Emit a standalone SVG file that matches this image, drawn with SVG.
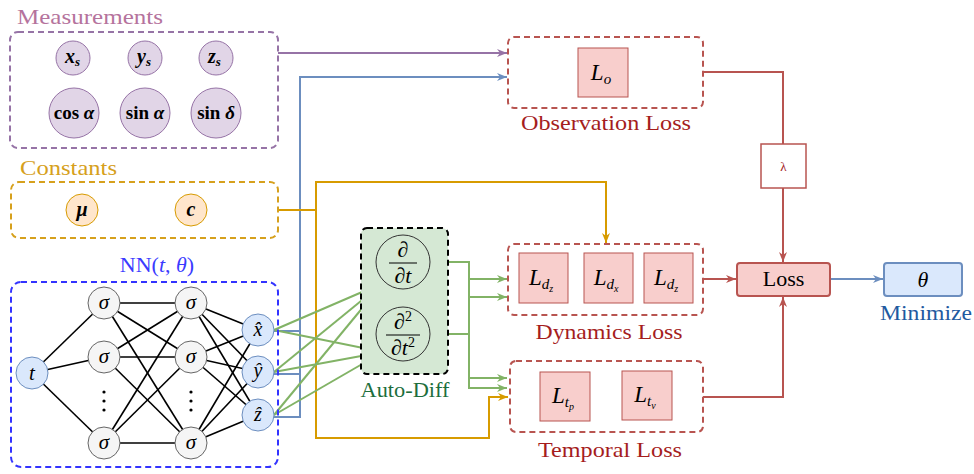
<svg xmlns="http://www.w3.org/2000/svg" width="974" height="474" viewBox="0 0 974 474">
  <style>
    .title { font-family: "Liberation Serif", "DejaVu Serif", serif; font-size: 22px; }
    .math { font-family: "Liberation Serif", "DejaVu Serif", serif; font-style: italic; fill: #000; }
    .mathb { font-family: "Liberation Serif", "DejaVu Serif", serif; font-weight: bold; fill: #000; }
    .grp { fill: none; stroke-width: 2; stroke-dasharray: 6 4; }
    .meas { fill: #e1d5e7; stroke: #9673a6; stroke-width: 1; }
    .const { fill: #ffe6cc; stroke: #d79b00; stroke-width: 1; }
    .hid { fill: #f5f5f5; stroke: #666666; stroke-width: 1; }
    .io { fill: #dae8fc; stroke: #6c8ebf; stroke-width: 1; }
    .lbox { fill: #f8cecc; stroke: #b85450; stroke-width: 1; }
    .nn line { stroke: #000; stroke-width: 1.6; }
    .e { fill: none; stroke-width: 2; }
    .purple { stroke: #9673a6; }
    .blue { stroke: #6c8ebf; }
    .orange { stroke: #d79b00; }
    .green { stroke: #82b366; }
    .red { stroke: #b85450; }
    .lossname { fill: #a51d1d; }
  </style>
  <defs>
    <marker id="arPurple" markerUnits="userSpaceOnUse" markerWidth="11" markerHeight="10" refX="10" refY="5" orient="auto">
      <path d="M0,1 L10,5 L0,9 L3,5 z" fill="#9673a6"/>
    </marker>
    <marker id="arBlue" markerUnits="userSpaceOnUse" markerWidth="11" markerHeight="10" refX="10" refY="5" orient="auto">
      <path d="M0,1 L10,5 L0,9 L3,5 z" fill="#6c8ebf"/>
    </marker>
    <marker id="arOrange" markerUnits="userSpaceOnUse" markerWidth="11" markerHeight="10" refX="10" refY="5" orient="auto">
      <path d="M0,1 L10,5 L0,9 L3,5 z" fill="#d79b00"/>
    </marker>
    <marker id="arGreen" markerUnits="userSpaceOnUse" markerWidth="11" markerHeight="10" refX="10" refY="5" orient="auto">
      <path d="M0,1 L10,5 L0,9 L3,5 z" fill="#82b366"/>
    </marker>
    <marker id="arRed" markerUnits="userSpaceOnUse" markerWidth="11" markerHeight="10" refX="10" refY="5" orient="auto">
      <path d="M0,1 L10,5 L0,9 L3,5 z" fill="#b85450"/>
    </marker>
  </defs>

  <!-- Connectors -->
  <g id="connectors">
    <path class="e purple" d="M278,53 H507" marker-end="url(#arPurple)"/>
    <path class="e blue" d="M274,331 H300 M274,374 H300"/>
    <path class="e blue" d="M274,417 H300 V77 H507" marker-end="url(#arBlue)"/>
    <path class="e orange" d="M278,210 H316 V182 H606 V243" marker-end="url(#arOrange)"/>
    <path class="e orange" d="M316,210 V438 H489 V397 H508" marker-end="url(#arOrange)"/>
    <!-- network outputs into the differentiation operators -->
    <g class="e green" stroke-width="1.6">
      <line x1="274" y1="330" x2="383" y2="283"/>
      <line x1="274" y1="330" x2="383" y2="352"/>
      <line x1="274" y1="372" x2="383" y2="283"/>
      <line x1="274" y1="372" x2="383" y2="352"/>
      <line x1="274" y1="415" x2="383" y2="283"/>
      <line x1="274" y1="415" x2="383" y2="352"/>
    </g>
    <path class="e green" d="M430,262 H469 V279 H507" marker-end="url(#arGreen)"/>
    <path class="e green" d="M430,334 H469 V297 H507" marker-end="url(#arGreen)"/>
    <path class="e green" d="M430,262 H469 V378 H507" marker-end="url(#arGreen)"/>
    <path class="e green" d="M430,334 H469 V388 H507" marker-end="url(#arGreen)"/>
    <path class="e red" d="M703,72 H783 V144"/>
    <path class="e red" d="M783,188 V262" marker-end="url(#arRed)"/>
    <path class="e red" d="M703,279 H736" marker-end="url(#arRed)"/>
    <path class="e red" d="M703,397 H783 V297" marker-end="url(#arRed)"/>
    <path class="e blue" d="M830,279 H883" marker-end="url(#arBlue)"/>
  </g>

  <!-- Measurements group -->
  <g id="measurements">
    <text class="title" x="17" y="24" fill="#b5739d" textLength="146" lengthAdjust="spacingAndGlyphs">Measurements</text>
    <rect class="grp" x="10" y="32" width="268" height="116" rx="8" stroke="#9673a6"/>
    <circle class="meas" cx="73" cy="58" r="17"/>
    <text class="math" x="65" y="63" font-size="20" font-weight="bold">x<tspan font-size="13" dy="3">s</tspan></text>
    <circle class="meas" cx="145" cy="58" r="17"/>
    <text class="math" x="137" y="63" font-size="20" font-weight="bold">y<tspan font-size="13" dy="3">s</tspan></text>
    <circle class="meas" cx="216" cy="58" r="17"/>
    <text class="math" x="208" y="63" font-size="20" font-weight="bold">z<tspan font-size="13" dy="3">s</tspan></text>
    <circle class="meas" cx="74" cy="113" r="25"/>
    <text class="mathb" x="74" y="119" font-size="19" text-anchor="middle">cos <tspan font-style="italic">α</tspan></text>
    <circle class="meas" cx="145" cy="113" r="25"/>
    <text class="mathb" x="145" y="119" font-size="19" text-anchor="middle">sin <tspan font-style="italic">α</tspan></text>
    <circle class="meas" cx="216" cy="113" r="25"/>
    <text class="mathb" x="216" y="119" font-size="19" text-anchor="middle">sin <tspan font-style="italic">δ</tspan></text>
  </g>

  <!-- Constants group -->
  <g id="constants">
    <text class="title" x="20" y="175" fill="#d6a01c" textLength="97" lengthAdjust="spacingAndGlyphs">Constants</text>
    <rect class="grp" x="11" y="182" width="267" height="56" rx="8" stroke="#d6a01c"/>
    <circle class="const" cx="82" cy="210" r="16"/>
    <text class="math" x="82" y="216" font-size="20" font-weight="bold" text-anchor="middle">μ</text>
    <circle class="const" cx="191" cy="210" r="16"/>
    <text class="math" x="191" y="216" font-size="20" font-weight="bold" text-anchor="middle">c</text>
  </g>

  <!-- Neural network -->
  <g id="nn" class="nn">
    <text class="title" x="157" y="272" fill="#3b3bff" text-anchor="middle" font-size="24">NN(<tspan font-style="italic">t</tspan>, <tspan font-style="italic">θ</tspan>)</text>
    <rect class="grp" x="11" y="282" width="267" height="185" rx="10" stroke="#3333ff"/>
    <!-- input to first hidden layer -->
    <line x1="32" y1="373" x2="104" y2="303"/>
    <line x1="32" y1="373" x2="104" y2="357"/>
    <line x1="32" y1="373" x2="104" y2="443"/>
    <!-- hidden to hidden -->
    <line x1="104" y1="303" x2="191" y2="303"/>
    <line x1="104" y1="303" x2="191" y2="357"/>
    <line x1="104" y1="303" x2="191" y2="443"/>
    <line x1="104" y1="357" x2="191" y2="303"/>
    <line x1="104" y1="357" x2="191" y2="357"/>
    <line x1="104" y1="357" x2="191" y2="443"/>
    <line x1="104" y1="443" x2="191" y2="303"/>
    <line x1="104" y1="443" x2="191" y2="357"/>
    <line x1="104" y1="443" x2="191" y2="443"/>
    <!-- hidden to outputs -->
    <line x1="191" y1="303" x2="258" y2="330"/>
    <line x1="191" y1="303" x2="258" y2="372"/>
    <line x1="191" y1="303" x2="258" y2="415"/>
    <line x1="191" y1="357" x2="258" y2="330"/>
    <line x1="191" y1="357" x2="258" y2="372"/>
    <line x1="191" y1="357" x2="258" y2="415"/>
    <line x1="191" y1="443" x2="258" y2="330"/>
    <line x1="191" y1="443" x2="258" y2="372"/>
    <line x1="191" y1="443" x2="258" y2="415"/>
    <g id="node-t">
      <circle class="io" cx="32" cy="373" r="16"/>
      <text class="math" x="32" y="380" font-size="21" text-anchor="middle">t</text>
    </g>
    <g id="hidden-1">
      <circle class="hid" cx="104" cy="303" r="16"/>
      <text class="math" x="104" y="309" font-size="21" text-anchor="middle">σ</text>
      <circle class="hid" cx="104" cy="357" r="16"/>
      <text class="math" x="104" y="363" font-size="21" text-anchor="middle">σ</text>
      <circle class="hid" cx="104" cy="443" r="16"/>
      <text class="math" x="104" y="449" font-size="21" text-anchor="middle">σ</text>
      <circle cx="104" cy="392" r="1.6" fill="#000"/>
      <circle cx="104" cy="401" r="1.6" fill="#000"/>
      <circle cx="104" cy="410" r="1.6" fill="#000"/>
    </g>
    <g id="hidden-2">
      <circle class="hid" cx="191" cy="303" r="16"/>
      <text class="math" x="191" y="309" font-size="21" text-anchor="middle">σ</text>
      <circle class="hid" cx="191" cy="357" r="16"/>
      <text class="math" x="191" y="363" font-size="21" text-anchor="middle">σ</text>
      <circle class="hid" cx="191" cy="443" r="16"/>
      <text class="math" x="191" y="449" font-size="21" text-anchor="middle">σ</text>
      <circle cx="191" cy="392" r="1.6" fill="#000"/>
      <circle cx="191" cy="401" r="1.6" fill="#000"/>
      <circle cx="191" cy="410" r="1.6" fill="#000"/>
    </g>
    <g id="outputs">
      <circle class="io" cx="258" cy="330" r="16"/>
      <text class="math" x="258" y="336" font-size="20" text-anchor="middle">x̂</text>
      <circle class="io" cx="258" cy="372" r="16"/>
      <text class="math" x="258" y="377" font-size="20" text-anchor="middle">ŷ</text>
      <circle class="io" cx="258" cy="415" r="16"/>
      <text class="math" x="258" y="421" font-size="20" text-anchor="middle">ẑ</text>
    </g>
  </g>

  <!-- Automatic differentiation -->
  <g id="auto-diff">
    <rect x="361" y="228" width="87" height="146" rx="6" fill="#d5e8d4" stroke="#000" stroke-width="2" stroke-dasharray="6 4"/>
    <circle cx="403" cy="262" r="27" fill="none" stroke="#333" stroke-width="1"/>
    <text class="math" x="403" y="257" font-size="22" font-style="normal" text-anchor="middle">∂</text>
    <line x1="389" y1="263" x2="417" y2="263" stroke="#000" stroke-width="1"/>
    <text class="math" x="403" y="283" font-size="22" text-anchor="middle">∂t</text>
    <circle cx="403" cy="334" r="27" fill="none" stroke="#333" stroke-width="1"/>
    <text class="math" x="403" y="329" font-size="22" text-anchor="middle">∂<tspan font-size="14" dy="-8" font-style="normal">2</tspan></text>
    <line x1="386" y1="335" x2="420" y2="335" stroke="#000" stroke-width="1"/>
    <text class="math" x="403" y="355" font-size="22" text-anchor="middle">∂t<tspan font-size="14" dy="-8" font-style="normal">2</tspan></text>
    <text class="title" x="405" y="397" fill="#1d6e3c" text-anchor="middle" textLength="89" lengthAdjust="spacingAndGlyphs">Auto-Diff</text>
  </g>

  <!-- Observation loss -->
  <g id="observation-loss">
    <rect class="grp" x="508" y="37" width="195" height="71" rx="6" stroke="#b85450"/>
    <rect class="lbox" x="578" y="48" width="50" height="49"/>
    <text class="math" x="601" y="80" font-size="23" text-anchor="middle">L<tspan font-size="15" dy="4">o</tspan></text>
    <text class="title lossname" x="606" y="130" text-anchor="middle" textLength="170" lengthAdjust="spacingAndGlyphs">Observation Loss</text>
  </g>

  <!-- Dynamics loss -->
  <g id="dynamics-loss">
    <rect class="grp" x="508" y="244" width="195" height="71" rx="6" stroke="#b85450"/>
    <rect class="lbox" x="519" y="253" width="49" height="50"/>
    <text class="math" x="541" y="285" font-size="23" text-anchor="middle">L<tspan font-size="15" dy="4">d</tspan><tspan font-size="10" dy="3">z</tspan></text>
    <rect class="lbox" x="584" y="253" width="49" height="50"/>
    <text class="math" x="606" y="285" font-size="23" text-anchor="middle">L<tspan font-size="15" dy="4">d</tspan><tspan font-size="10" dy="3">x</tspan></text>
    <rect class="lbox" x="644" y="253" width="49" height="50"/>
    <text class="math" x="666" y="285" font-size="23" text-anchor="middle">L<tspan font-size="15" dy="4">d</tspan><tspan font-size="10" dy="3">z</tspan></text>
    <text class="title lossname" x="609" y="339" text-anchor="middle" textLength="147" lengthAdjust="spacingAndGlyphs">Dynamics Loss</text>
  </g>

  <!-- Temporal loss -->
  <g id="temporal-loss">
    <rect class="grp" x="510" y="361" width="193" height="71" rx="6" stroke="#b85450"/>
    <rect class="lbox" x="540" y="372" width="50" height="49"/>
    <text class="math" x="563" y="403" font-size="23" text-anchor="middle">L<tspan font-size="15" dy="4">t</tspan><tspan font-size="10" dy="3">p</tspan></text>
    <rect class="lbox" x="622" y="371" width="50" height="49"/>
    <text class="math" x="645" y="402" font-size="23" text-anchor="middle">L<tspan font-size="15" dy="4">t</tspan><tspan font-size="10" dy="3">v</tspan></text>
    <text class="title lossname" x="610" y="457" text-anchor="middle" textLength="144" lengthAdjust="spacingAndGlyphs">Temporal Loss</text>
  </g>

  <!-- Weighting factor -->
  <g id="lambda">
    <rect x="761" y="144" width="45" height="44" fill="#fff" stroke="#b85450" stroke-width="1.5"/>
    <text x="783.5" y="171" font-family="Liberation Serif, serif" font-size="13" fill="#a51d1d" text-anchor="middle">λ</text>
  </g>

  <!-- Total loss -->
  <g id="loss">
    <rect x="737" y="263" width="93" height="33" rx="3" fill="#f8cecc" stroke="#b85450" stroke-width="2"/>
    <text class="title" x="783.5" y="286" font-size="20" fill="#000" text-anchor="middle">Loss</text>
  </g>

  <!-- Parameters to minimize -->
  <g id="theta">
    <rect x="884" y="263" width="78" height="33" rx="3" fill="#dae8fc" stroke="#6c8ebf" stroke-width="2"/>
    <text class="math" x="923" y="287" font-size="22" text-anchor="middle">θ</text>
    <text class="title" x="926" y="320" fill="#1f5aa0" text-anchor="middle" textLength="92" lengthAdjust="spacingAndGlyphs">Minimize</text>
  </g>
</svg>
